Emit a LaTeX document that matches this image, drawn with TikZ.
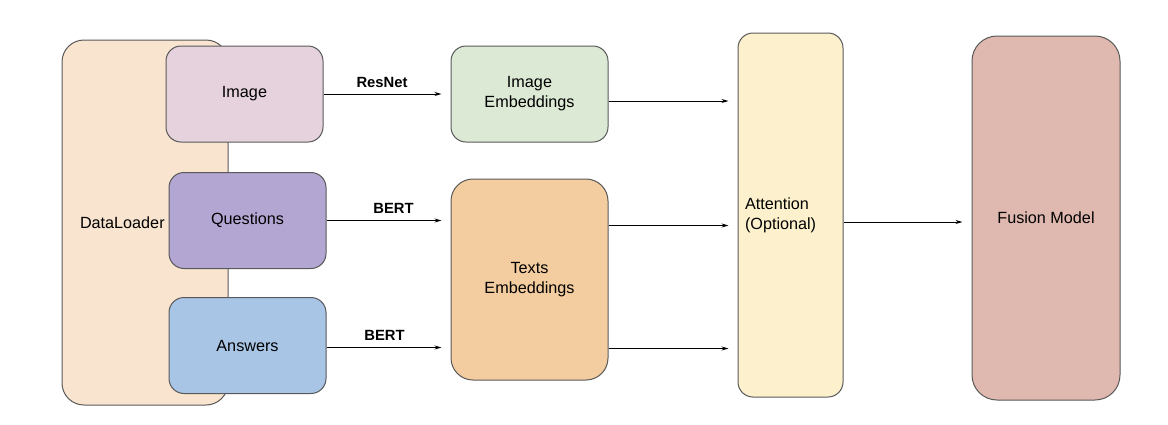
\documentclass[tikz,border=0pt]{standalone}
\usepackage{fontspec}
\setmainfont{Liberation Sans}
\usetikzlibrary{arrows.meta}

\definecolor{loaderfill}{HTML}{F9E5CF}
\definecolor{imagefill}{HTML}{E6D2DD}
\definecolor{questfill}{HTML}{B3A6D3}
\definecolor{answerfill}{HTML}{A8C5E6}
\definecolor{imgembfill}{HTML}{DCE9D5}
\definecolor{textembfill}{HTML}{F3CC9F}
\definecolor{attnfill}{HTML}{FDF1CD}
\definecolor{fusionfill}{HTML}{DFB8AF}
\definecolor{edgegray}{HTML}{595959}

\begin{document}
\begin{tikzpicture}[x=1pt, y=-1pt,
    box/.style={draw=edgegray, line width=1pt, rounded corners=15pt,
        minimum width=157pt, minimum height=96pt, align=center,
        font=\fontsize{16.2}{20}\selectfont},
    arr/.style={-{Stealth[length=7pt,width=4pt]}, line width=0.9pt, shorten >=9pt},
    model/.style={above=3pt, font=\bfseries\fontsize{14.8}{17}\selectfont}]
    \useasboundingbox (0,0) rectangle (1168,424);

    % data loader (drawn first, boxes sit on top)
    \node[box, fill=loaderfill, rounded corners=22pt, minimum width=166pt, minimum height=365pt,
        inner xsep=18pt, text width=130pt, align=left] (loader) at (145,222.5) {DataLoader};

    % inputs
    \node[box, fill=imagefill] (image) at (244.5,94) {Image};
    \node[box, fill=questfill] (quest) at (247.5,220.5) {Questions};
    \node[box, fill=answerfill] (answer) at (247.5,345.5) {Answers};

    % embeddings
    \node[box, fill=imgembfill] (imgemb) at (529.5,94) {Image\\Embeddings};
    \node[box, fill=textembfill, minimum height=201pt, rounded corners=22pt] (textemb) at (529.5,279.5) {Texts\\Embeddings};

    % attention
    \node[box, fill=attnfill, minimum width=105pt, minimum height=364pt,
        inner xsep=7pt, text width=91pt, align=left] (attn) at (790.5,215) {Attention\\(Optional)};

    % fusion
    \node[box, fill=fusionfill, minimum width=148pt, minimum height=364pt, rounded corners=25pt]
        (fusion) at (1046,218) {Fusion Model};

    % encoders
    \draw[arr] (image.east) -- (image.east -| imgemb.west) node[model, midway, xshift=-5pt] {ResNet};
    \draw[arr] (quest.east) -- (quest.east -| textemb.west) node[model, midway, xshift=5pt] {BERT};
    \draw[arr] ([yshift=-2pt]answer.east) -- ([yshift=-2pt]answer.east -| textemb.west) node[model, midway, xshift=-4pt] {BERT};

    % into attention
    \draw[arr] ([yshift=-7pt]imgemb.east) -- ([yshift=-7pt]imgemb.east -| attn.west);
    \draw[arr] ([yshift=54pt]textemb.east) -- ([yshift=54pt]textemb.east -| attn.west);
    \draw[arr] ([yshift=-69pt]textemb.east) -- ([yshift=-69pt]textemb.east -| attn.west);

    % into fusion
    \draw[arr] ([yshift=-7pt]attn.east) -- ([yshift=-7pt]attn.east -| fusion.west);
\end{tikzpicture}
\end{document}
